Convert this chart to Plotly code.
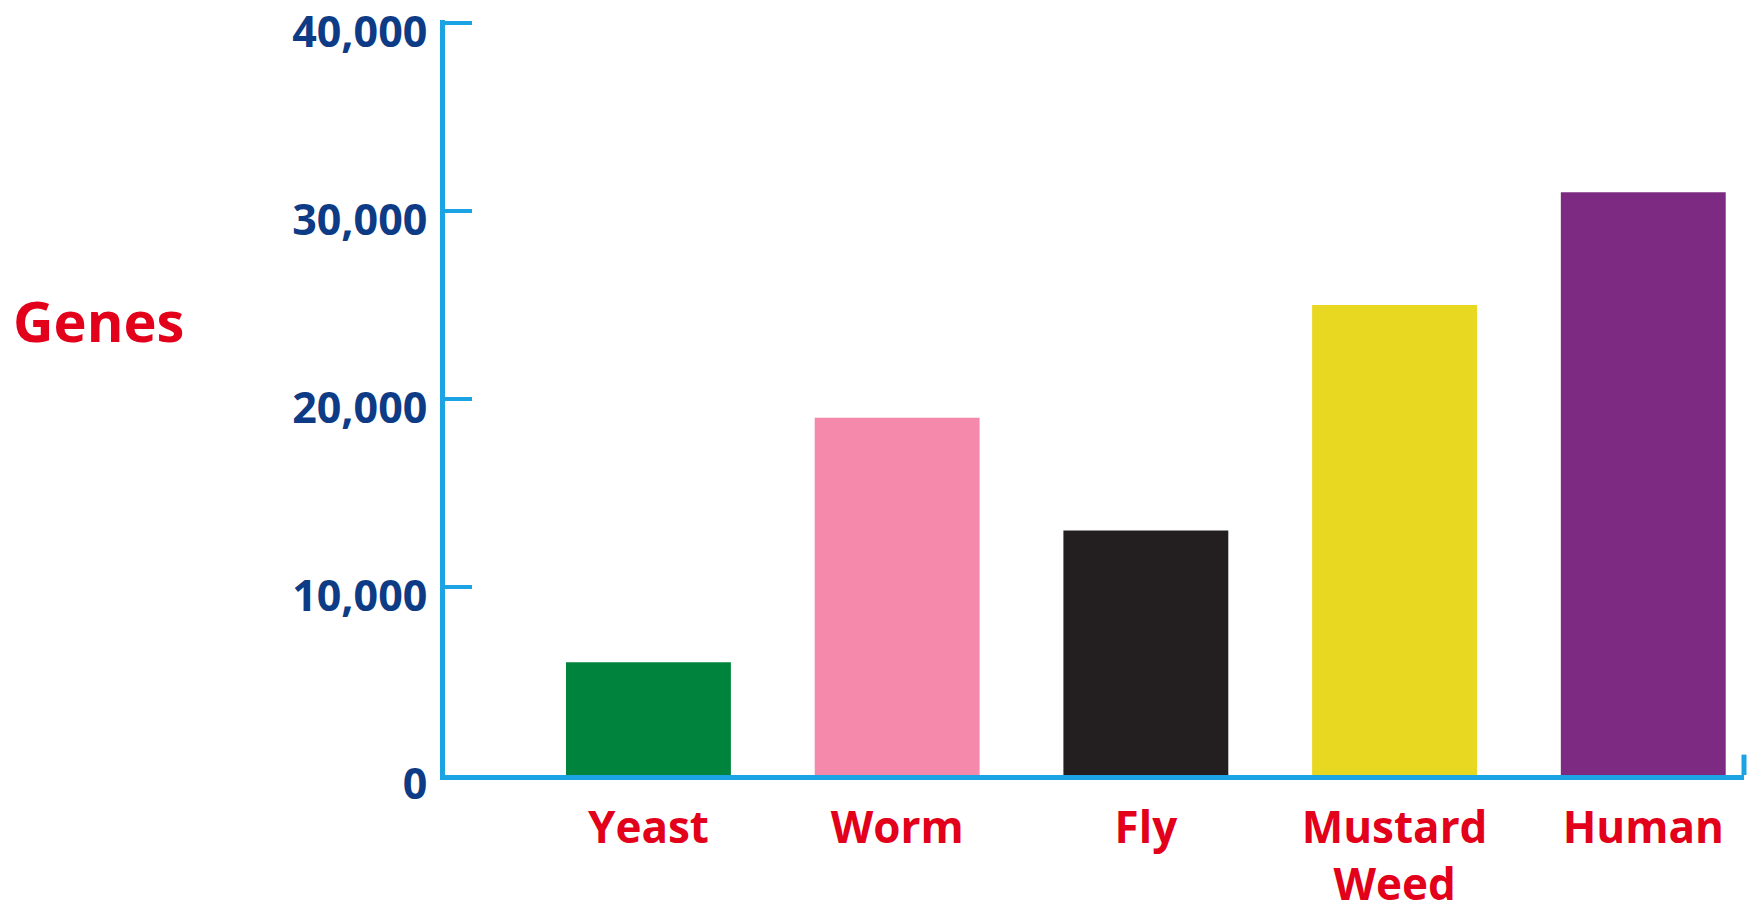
import plotly.graph_objects as go

categories = ["Yeast", "Worm", "Fly", "Mustard<br>Weed", "Human"]
genes = [6000, 19000, 13000, 25000, 31000]
bar_colors = ["#00843D", "#F589AB", "#231F20", "#E9D822", "#7D2B82"]
y_ticks = [0, 10000, 20000, 30000, 40000]
y_tick_text = ["0", "10,000", "20,000", "30,000", "40,000"]

AXIS_BLUE = "#1BA3E3"
NAVY = "#0D3B85"
RED = "#E2001A"

fig = go.Figure()
fig.add_trace(go.Bar(
    x=categories, y=genes, marker=dict(color=bar_colors, line=dict(width=0)),
    width=0.663, showlegend=False, hoverinfo="x+y",
))

fig.update_layout(
    width=1754, height=913,
    margin=dict(l=445, r=10, t=20, b=138),
    paper_bgcolor="white", plot_bgcolor="white",
    font=dict(family="Open Sans", size=42),
    xaxis=dict(
        type="category", range=[-0.818, 4.405], automargin=False,
        showline=True, linecolor=AXIS_BLUE, linewidth=5,
        ticks="", showgrid=False, zeroline=False,
        tickfont=dict(family="Open Sans", size=44, color=RED, weight=700),
        ticklabelstandoff=10, ticklabeloverflow="allow",
    ),
    yaxis=dict(
        range=[0, 40160], tickvals=y_ticks, ticktext=y_tick_text, automargin=False,
        showline=True, linecolor=AXIS_BLUE, linewidth=5,
        ticks="inside", ticklen=27, tickwidth=4, tickcolor=AXIS_BLUE,
        showgrid=False, zeroline=False,
        tickfont=dict(family="Open Sans", size=43, color=NAVY, weight=700),
        ticklabelstandoff=4, ticklabelshift=9, ticklabeloverflow="allow",
    ),
    shapes=[dict(type="line", xref="paper", yref="paper", x0=1, x1=1, y0=0, y1=0.027,
                 line=dict(color=AXIS_BLUE, width=5))],
    annotations=[dict(text="Genes", xref="paper", yref="paper", x=-0.334, y=0.603,
                      xanchor="left", yanchor="middle", showarrow=False,
                      font=dict(family="Open Sans", size=56, color=RED, weight=700))],
)

fig.write_html("out.html")
